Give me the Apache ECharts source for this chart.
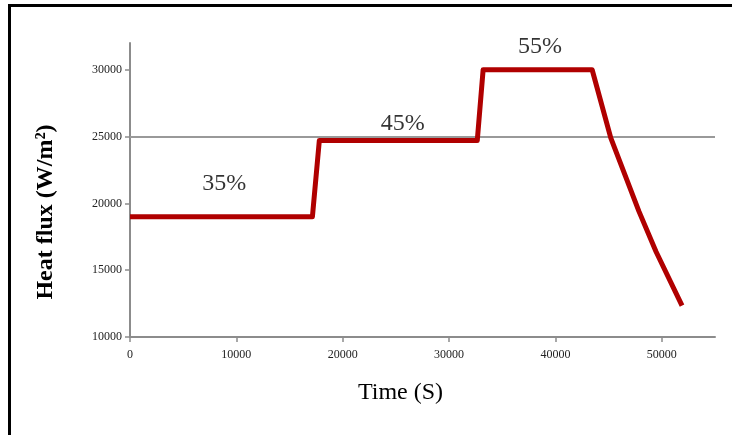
<!DOCTYPE html>
<html>
<head>
<meta charset="utf-8">
<script src="https://cdn.jsdelivr.net/npm/echarts@6/dist/echarts.min.js"></script>
<style>
html,body{margin:0;padding:0;background:#fff;}
#frame{position:absolute;left:8px;top:4px;width:724px;height:431px;border-left:3px solid #000;border-top:3px solid #000;box-sizing:border-box;}
#c{position:absolute;left:0;top:0;width:732px;height:435px;}
</style>
</head>
<body>
<div id="frame"></div>
<div id="c"></div>
<script>
// Data
const timeS = [0, 17150, 17800, 32650, 33200, 43450, 45200, 47850, 49450, 51900];
const heatFlux = [19000, 19000, 24700, 24700, 30000, 30000, 24900, 19400, 16400, 12350];
const annotLabels = ['35%', '45%', '55%'];
const annotTime = [8850, 25650, 38550];
const annotFlux = [21450, 25950, 31700];
const gridValue = 25000;

const serif = '"Liberation Serif", "DejaVu Serif", serif';
const chart = echarts.init(document.getElementById('c'), null, {renderer: 'canvas'});
chart.setOption({
  animation: false,
  backgroundColor: 'transparent',
  grid: {left: 130, right: 17, top: 43, bottom: 98},
  xAxis: {
    type: 'value', min: 0, max: 55000, interval: 10000,
    name: 'Time (S)', nameLocation: 'middle', nameGap: 44,
    nameTextStyle: {fontFamily: serif, fontSize: 24, color: '#000', padding: [0, 44, 0, 0]},
    axisLine: {lineStyle: {color: '#8c8c8c', width: 2}},
    axisTick: {show: true, length: 5, lineStyle: {color: '#8c8c8c', width: 1.5}},
    axisLabel: {fontFamily: serif, fontSize: 12, color: '#222', margin: 12, showMaxLabel: false,
      formatter: v => String(v)},
    splitLine: {show: false}
  },
  yAxis: {
    type: 'value', min: 10000, max: 32000, interval: 5000,
    name: 'Heat flux (W/m²)', nameLocation: 'middle', nameGap: 72, nameRotate: 90,
    nameTextStyle: {fontFamily: serif, fontSize: 24, fontWeight: 'bold', color: '#000', padding: [0, 44, 0, 0]},
    axisLine: {show: true, lineStyle: {color: '#8c8c8c', width: 2}},
    axisTick: {show: true, length: 5, lineStyle: {color: '#8c8c8c', width: 1.5}},
    axisLabel: {fontFamily: serif, fontSize: 12, color: '#222', margin: 8, showMaxLabel: false,
      formatter: v => String(v)},
    splitLine: {show: false}
  },
  series: [{
    type: 'line',
    data: timeS.map((t, i) => [t, heatFlux[i]]),
    showSymbol: false,
    lineStyle: {color: '#b00000', width: 5, join: 'round'},
    itemStyle: {color: '#b00000'},
    z: 3,
    markLine: {
      silent: true, symbol: 'none', label: {show: false},
      lineStyle: {color: '#999', width: 2, type: 'solid'},
      data: [{yAxis: gridValue}],
      z: 1
    }
  }, {
    type: 'scatter',
    silent: true,
    symbolSize: 1,
    itemStyle: {color: 'rgba(0,0,0,0)'},
    data: annotLabels.map((l, i) => ({name: l, value: [annotTime[i], annotFlux[i]]})),
    label: {show: true, position: 'inside', formatter: p => p.name,
      fontFamily: serif, fontSize: 24, color: '#000', textBorderWidth: 0},
    z: 4
  }]
});
</script>
</body>
</html>
